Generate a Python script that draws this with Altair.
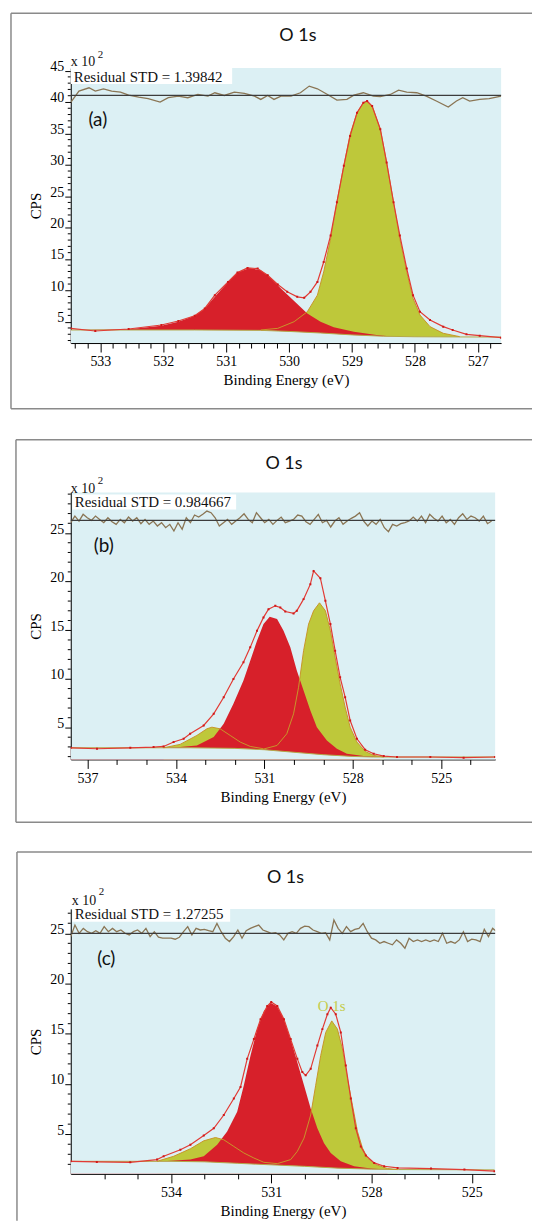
import altair as alt
import pandas as pd

SERIF = "Liberation Serif"
SANS = "Lato"
BG = "#dcf0f4"
RED = "#d7202a"
YEL = "#bec83a"
YEL_LINE = "#c8962a"
ENV = "#e23a34"
RES = "#8a7554"
FRAME = "#8a8a8a"

# ---------------- panel (a) ----------------
a_env_x = [533.47, 533.08, 532.55, 532.03, 531.76, 531.50, 531.34, 531.18, 530.97, 530.82, 530.66, 530.50, 530.34, 530.18, 530.03, 529.87, 529.76, 529.66, 529.55, 529.45, 529.34, 529.24, 529.13, 529.03, 528.92, 528.82, 528.76, 528.68, 528.55, 528.45, 528.34, 528.24, 528.13, 528.03, 527.92, 527.76, 527.55, 527.40, 527.18, 526.97, 526.63]
a_env_y = [3.94, 3.52, 3.84, 4.47, 5.11, 5.95, 7.11, 9.23, 11.34, 12.82, 13.56, 13.46, 12.40, 10.92, 9.76, 8.96, 8.81, 9.76, 11.34, 14.51, 18.74, 24.03, 29.84, 34.60, 38.30, 39.88, 40.15, 39.36, 35.66, 30.37, 24.03, 18.74, 13.46, 9.23, 6.59, 5.26, 4.21, 3.68, 2.99, 2.78, 2.46]
a_red_x = [533.47, 532.55, 532.03, 531.76, 531.50, 531.34, 531.18, 530.97, 530.82, 530.63, 530.45, 530.29, 530.13, 529.92, 529.71, 529.50, 529.29, 528.97, 528.61, 528.34]
a_red_y = [3.68, 3.78, 4.37, 5.00, 5.95, 7.11, 8.96, 11.34, 12.82, 13.56, 13.19, 11.98, 10.29, 8.28, 6.32, 5.00, 4.10, 3.41, 2.89, 2.62]
a_yel_x = [530.45, 530.18, 529.92, 529.71, 529.55, 529.45, 529.34, 529.24, 529.13, 529.03, 528.92, 528.82, 528.77, 528.68, 528.55, 528.45, 528.34, 528.24, 528.13, 528.03, 527.92, 527.76, 527.55, 527.29]
a_yel_y = [3.68, 3.94, 5.00, 6.59, 9.23, 12.93, 18.21, 24.03, 29.84, 34.86, 38.30, 39.88, 40.04, 39.36, 35.66, 30.37, 24.03, 18.21, 12.93, 8.70, 6.06, 4.21, 3.15, 2.62]
a_base_x = [533.47, 531.50, 530.45, 530.00, 529.50, 529.00, 528.50, 528.00, 526.63]
a_base_y = [3.68, 3.68, 3.62, 3.45, 3.20, 2.90, 2.68, 2.60, 2.55]
a_res_x = [533.47, 533.34, 533.18, 533.08, 532.95, 532.82, 532.68, 532.55, 532.39, 532.24,
           532.05, 531.92, 531.76, 531.61, 531.45, 531.29, 531.18, 531.03, 530.87, 530.71,
           530.55, 530.45, 530.34, 530.24, 530.13, 529.97, 529.82, 529.68, 529.55, 529.39,
           529.24, 529.08, 528.97, 528.82, 528.66, 528.55, 528.39, 528.26, 528.13, 527.97,
           527.82, 527.66, 527.47, 527.34, 527.24, 527.13, 526.97, 526.82, 526.63]
a_res_y = [39.94, 41.73, 42.26, 41.73, 42.10, 41.73, 41.57, 41.10, 40.78, 40.52,
           39.99, 40.68, 40.94, 40.68, 41.20, 40.94, 41.47, 41.04, 41.57, 41.36,
           40.94, 40.41, 41.04, 40.41, 40.94, 40.94, 41.47, 42.53, 42.10, 41.20,
           40.31, 40.41, 41.10, 41.47, 40.94, 40.84, 41.20, 41.89, 41.57, 41.47,
           40.94, 40.15, 39.20, 40.15, 40.68, 40.15, 40.41, 40.52, 40.94]
a_res_ref = 41.05

# ---------------- panel (b) ----------------
b_env_x = [537.57, 536.68, 535.55, 534.76, 534.42, 534.08, 533.74, 533.52, 533.06, 532.72, 532.38, 532.05, 531.71, 531.48, 531.25, 531.03, 530.86, 530.63, 530.46, 530.29, 530.01, 529.90, 529.67, 529.44, 529.33, 529.10, 528.93, 528.76, 528.60, 528.43, 528.26, 528.09, 527.86, 527.58, 527.29, 526.95, 526.50, 525.37, 524.24, 523.17]
b_env_y = [2.91, 2.81, 2.91, 2.98, 3.05, 3.50, 3.84, 4.35, 5.21, 6.40, 8.11, 9.99, 11.70, 13.24, 14.95, 16.32, 17.17, 17.51, 17.34, 16.93, 16.73, 17.00, 18.20, 19.74, 21.10, 20.35, 18.03, 15.63, 12.90, 10.16, 8.11, 5.72, 3.84, 2.71, 2.30, 2.06, 1.96, 1.96, 1.89, 1.96]
b_red_x = [537.57, 534.42, 533.86, 533.29, 532.72, 532.38, 532.05, 531.71, 531.48, 531.25, 531.03, 530.82, 530.57, 530.35, 530.12, 529.90, 529.67, 529.44, 529.22, 528.88, 528.54, 528.20, 527.63, 527.07]
b_red_y = [2.91, 2.91, 2.98, 3.15, 4.01, 5.38, 7.43, 9.82, 11.87, 13.92, 15.63, 16.38, 16.15, 14.95, 13.24, 10.85, 8.79, 6.74, 5.03, 3.67, 2.81, 2.30, 2.06, 1.96]
b_y1_x = [534.42, 533.86, 533.29, 532.95, 532.78, 532.50, 532.16, 531.82, 531.48, 531.03]
b_y1_y = [2.91, 3.26, 4.18, 4.86, 5.03, 4.86, 4.18, 3.50, 3.05, 2.81]
b_y2_x = [531.03, 530.57, 530.24, 530.01, 529.84, 529.67, 529.50, 529.33, 529.13, 528.93, 528.76, 528.60, 528.43, 528.26, 528.09, 527.86, 527.58, 527.29, 526.95]
b_y2_y = [2.78, 3.15, 4.35, 6.40, 9.14, 12.90, 15.63, 17.00, 17.82, 17.00, 14.95, 12.21, 9.48, 7.09, 5.03, 3.50, 2.54, 2.13, 1.96]
b_base_x = [537.57, 533.50, 532.00, 531.00, 530.00, 529.00, 528.00, 527.30, 523.17]
b_base_y = [2.91, 2.91, 2.85, 2.71, 2.45, 2.20, 2.02, 1.96, 1.96]
b_res_x = [537.57, 537.43, 537.29, 537.15, 537.01, 536.87, 536.73, 536.59, 536.45, 536.31,
           536.17, 536.03, 535.89, 535.75, 535.61, 535.47, 535.33, 535.19, 535.05, 534.91,
           534.77, 534.63, 534.49, 534.35, 534.21, 534.07, 533.93, 533.79, 533.65, 533.51,
           533.37, 533.23, 533.09, 532.95, 532.81, 532.67, 532.53, 532.39, 532.25, 532.11,
           531.97, 531.83, 531.69, 531.55, 531.41, 531.27, 531.13, 530.99, 530.85, 530.71,
           530.57, 530.43, 530.29, 530.15, 530.01, 529.87, 529.73, 529.59, 529.45, 529.31,
           529.17, 529.03, 528.89, 528.75, 528.61, 528.47, 528.33, 528.19, 528.05, 527.91,
           527.77, 527.63, 527.49, 527.35, 527.21, 527.07, 526.93, 526.79, 526.65, 526.51,
           526.37, 526.23, 526.09, 525.95, 525.81, 525.67, 525.53, 525.39, 525.25, 525.11,
           524.97, 524.83, 524.69, 524.55, 524.41, 524.27, 524.13, 523.99, 523.85, 523.71,
           523.57, 523.43, 523.29]
b_res_y = [26.06, 26.74, 26.23, 26.92, 26.57, 26.30, 26.74, 26.40, 26.06, 26.57,
           26.16, 25.89, 26.40, 26.06, 26.64, 26.23, 26.57, 25.96, 26.40, 25.89,
           26.23, 25.72, 26.06, 25.55, 25.89, 25.21, 26.06, 25.38, 26.57, 26.06,
           26.85, 26.64, 26.92, 27.26, 27.09, 26.57, 25.72, 26.06, 26.40, 25.89,
           26.23, 26.57, 26.98, 26.40, 26.06, 27.09, 26.57, 26.06, 26.40, 25.89,
           26.30, 26.64, 26.06, 26.23, 26.40, 26.85, 26.74, 26.16, 25.89, 26.40,
           26.92, 26.06, 26.30, 25.62, 26.23, 26.57, 25.89, 26.23, 26.51, 26.74,
           27.09, 26.23, 25.72, 26.23, 25.89, 26.40, 25.55, 25.14, 25.89, 25.72,
           25.96, 26.06, 26.23, 26.64, 26.23, 26.74, 26.06, 26.92, 26.51, 26.23,
           26.74, 26.06, 26.40, 25.89, 26.57, 26.98, 26.40, 26.74, 26.57, 26.23,
           26.74, 25.96, 26.23]
b_res_ref = 26.30

# ---------------- panel (c) ----------------
c_env_x = [537.00, 536.22, 535.22, 534.42, 534.22, 533.72, 533.42, 533.02, 532.72, 532.42, 532.12, 531.92, 531.72, 531.52, 531.32, 531.12, 531.00, 530.82, 530.62, 530.42, 530.22, 530.07, 529.97, 529.82, 529.62, 529.47, 529.32, 529.22, 529.07, 528.92, 528.77, 528.62, 528.47, 528.32, 528.17, 527.92, 527.62, 527.22, 526.22, 525.22, 524.32]
c_env_y = [2.30, 2.24, 2.20, 2.47, 2.80, 3.45, 3.95, 4.87, 5.59, 6.91, 8.55, 9.70, 12.50, 14.47, 16.45, 17.76, 18.16, 17.76, 16.45, 14.47, 12.50, 11.18, 10.86, 11.51, 13.82, 15.46, 16.94, 17.60, 16.94, 15.13, 11.84, 8.55, 5.59, 3.78, 2.89, 2.14, 1.81, 1.64, 1.58, 1.48, 1.32]
c_red_x = [537.00, 534.22, 533.42, 533.02, 532.62, 532.32, 532.02, 531.82, 531.62, 531.42, 531.22, 531.02, 530.82, 530.62, 530.42, 530.22, 530.02, 529.82, 529.62, 529.42, 529.22, 528.92, 528.52, 528.02, 527.52]
c_red_y = [2.30, 2.30, 2.47, 2.80, 3.95, 5.26, 7.24, 9.87, 12.83, 15.46, 17.27, 18.09, 17.70, 16.45, 14.47, 12.17, 9.87, 7.57, 5.59, 4.11, 3.13, 2.30, 1.81, 1.58, 1.48]
c_y1_x = [534.42, 533.92, 533.42, 533.02, 532.67, 532.42, 532.12, 531.82, 531.52, 531.22, 530.82]
c_y1_y = [2.30, 2.80, 3.55, 4.34, 4.67, 4.44, 3.78, 3.13, 2.63, 2.20, 2.07]
c_y2_x = [530.82, 530.42, 530.22, 530.02, 529.82, 529.67, 529.52, 529.37, 529.19, 529.02, 528.87, 528.72, 528.57, 528.42, 528.27, 528.12, 527.87, 527.52, 527.22]
c_y2_y = [2.07, 2.47, 3.29, 4.61, 6.91, 9.87, 12.83, 15.13, 16.28, 15.46, 13.49, 10.53, 7.89, 5.26, 3.62, 2.63, 1.97, 1.58, 1.48]
c_base_x = [537.00, 534.00, 533.00, 532.00, 531.00, 530.00, 529.00, 528.00, 527.20, 524.32]
c_base_y = [2.30, 2.30, 2.25, 2.10, 1.95, 1.80, 1.62, 1.52, 1.48, 1.45]
c_res_x = [537.000, 536.875, 536.750, 536.625, 536.500, 536.375, 536.250, 536.125, 536.000, 535.875,
           535.750, 535.625, 535.500, 535.375, 535.250, 535.125, 535.000, 534.875, 534.750, 534.625,
           534.500, 534.375, 534.250, 534.125, 534.000, 533.875, 533.750, 533.625, 533.500, 533.375,
           533.250, 533.125, 533.000, 532.875, 532.750, 532.625, 532.500, 532.375, 532.250, 532.125,
           532.000, 531.875, 531.750, 531.625, 531.500, 531.375, 531.250, 531.125, 531.000, 530.875,
           530.750, 530.625, 530.500, 530.375, 530.250, 530.125, 530.000, 529.875, 529.750, 529.625,
           529.500, 529.375, 529.250, 529.125, 529.000, 528.875, 528.750, 528.625, 528.500, 528.375,
           528.250, 528.125, 528.000, 527.875, 527.750, 527.625, 527.500, 527.375, 527.250, 527.125,
           527.000, 526.875, 526.750, 526.625, 526.500, 526.375, 526.250, 526.125, 526.000, 525.875,
           525.750, 525.625, 525.500, 525.375, 525.250, 525.125, 525.000, 524.875, 524.750, 524.625,
           524.500, 524.375, 524.250]
c_res_y = [24.67, 25.82, 25.00, 25.49, 25.16, 25.00, 25.26, 25.00, 25.66, 25.16,
           25.49, 25.16, 25.33, 25.00, 24.84, 25.16, 25.33, 25.00, 25.49, 24.67,
           25.16, 24.61, 24.51, 24.51, 24.51, 24.41, 24.61, 25.16, 25.66, 24.84,
           25.49, 25.33, 25.39, 25.26, 25.16, 25.99, 25.16, 24.51, 24.18, 24.67,
           25.33, 24.51, 25.26, 25.49, 25.66, 25.82, 25.33, 25.16, 25.00, 25.07,
           24.84, 24.34, 25.00, 25.16, 25.00, 25.49, 25.72, 25.66, 25.33, 25.16,
           25.00, 25.07, 24.34, 26.32, 25.49, 25.00, 25.66, 25.16, 25.39, 25.49,
           25.99, 25.16, 24.51, 24.34, 24.01, 24.18, 24.01, 23.85, 24.34, 24.01,
           23.52, 24.51, 24.18, 24.34, 24.18, 24.34, 24.18, 24.34, 24.18, 25.00,
           24.01, 24.18, 24.01, 24.34, 25.16, 24.18, 24.41, 24.34, 24.18, 25.39,
           24.67, 25.49, 25.16]
c_res_ref = 25.00

# ---------------- axes / labels ----------------
a_xticks = [round(526.8 + 0.2 * i, 1) for i in range(34)]
b_xticks = [524, 525, 526, 527, 528, 529, 530, 531, 532, 533, 534, 535, 536, 537]
c_xticks = [525, 526, 527, 528, 529, 530, 531, 532, 533, 534, 535, 536]
a_ymajor = [5, 10, 15, 20, 25, 30, 35, 40, 45]
b_ymajor = [5, 10, 15, 20, 25]
c_ymajor = [5, 10, 15, 20, 25]
a_yminor = [v for v in range(2, 46) if v % 5]
b_yminor = [v for v in range(2, 30) if v % 5]
c_yminor = [v for v in range(2, 28) if v % 5]

panels = [
    dict(key="a", w=432, h=276, xdom=[533.47, 526.63], ydom=[1.6, 45.4],
         xticks=a_xticks, xmajor="abs(datum.value - round(datum.value)) < 0.01",
         ymajor=a_ymajor, yminor=a_yminor,
         env=(a_env_x, a_env_y), red=(a_red_x, a_red_y), yellow=[(a_yel_x, a_yel_y)],
         base=(a_base_x, a_base_y), res=(a_res_x, a_res_y), ref=a_res_ref,
         std="Residual STD = 1.39842", label="(a)", label_xy=(533.19, 36.2),
         frame=dict(l=-60, t=-55, b=342, r=463), title_xy=(228, -32),
         box=(0, 162, 0, 16), std_xy=(3, 13.5), x10=(0, -2), sup=(27, -10)),
    dict(key="b", w=426, h=268, xdom=[537.57, 523.17], ydom=[1.71, 29.17],
         xticks=b_xticks, xmajor="datum.value % 3 == 0",
         ymajor=b_ymajor, yminor=b_yminor,
         env=(b_env_x, b_env_y), red=(b_red_x, b_red_y), yellow=[(b_y1_x, b_y1_y), (b_y2_x, b_y2_y)],
         base=(b_base_x, b_base_y), res=(b_res_x, b_res_y), ref=b_res_ref,
         std="Residual STD = 0.984667", label="(b)", label_xy=(536.79, 23.02),
         frame=dict(l=-55, t=-53, b=331, r=463), title_xy=(214, -29),
         box=(1.5, 166, 2, 17), std_xy=(4, 14.5), x10=(0, 0.5), sup=(27, -9)),
    dict(key="c", w=426, h=266, xdom=[537.0, 524.3], ydom=[1.05, 27.43],
         xticks=c_xticks, xmajor="datum.value % 3 == 0",
         ymajor=c_ymajor, yminor=c_yminor,
         env=(c_env_x, c_env_y), red=(c_red_x, c_red_y), yellow=[(c_y1_x, c_y1_y), (c_y2_x, c_y2_y)],
         base=(c_base_x, c_base_y), res=(c_res_x, c_res_y), ref=c_res_ref,
         std="Residual STD = 1.27255", label="(c)", label_xy=(536.21, 21.87),
         frame=dict(l=-54, t=-57, b=313, r=463), title_xy=(215.5, -30.7),
         box=(1.5, 160, -2, 13), std_xy=(4, 10.5), x10=(1, -4), sup=(28, -14)),
]

c_peak_label = ["O 1s"]
c_peak_x = [529.19]
c_peak_y = [17.31]

one = pd.DataFrame({"k": [0]})


def df(x, y):
    return pd.DataFrame({"x": x, "y": y})


def build(P):
    xax = alt.Axis(values=P["xticks"], tickCount=200, title="Binding Energy (eV)",
                   labelExpr=P["xmajor"] + " ? format(datum.value, 'd') : ''",
                   tickSize={"condition": {"test": P["xmajor"], "value": 9}, "value": 5},
                   labelOverlap=False, labelFlush=False, grid=False,
                   domainColor="black", tickColor="black", labelColor="black",
                   labelFont=SERIF, labelFontSize=14, labelPadding=3,
                   titleFont=SERIF, titleFontSize=15, titleFontWeight="normal",
                   titleColor="black", titlePadding=4)
    yax = alt.Axis(values=P["ymajor"], tickCount=200, title="CPS", format="d",
                   tickSize=6, labelOverlap=False, labelFlush=False, grid=False,
                   labelBaseline="alphabetic", labelPadding=1,
                   domainColor="black", tickColor="black", labelColor="black",
                   labelFont=SERIF, labelFontSize=14,
                   titleFont=SERIF, titleFontSize=15, titleFontWeight="normal",
                   titleColor="black", titlePadding=6)
    X = alt.X("x:Q", scale=alt.Scale(domain=P["xdom"], nice=False, zero=False), axis=xax)
    Y = alt.Y("y:Q", scale=alt.Scale(domain=P["ydom"], nice=False, zero=False), axis=yax)
    L = []
    for vx, vy in P["yellow"]:
        L.append(alt.Chart(df(vx, vy)).mark_area(color=YEL, opacity=1, clip=True).encode(x=X, y=Y))
    L.append(alt.Chart(df(*P["red"])).mark_area(color=RED, opacity=1, clip=True).encode(x=X, y=Y))
    L.append(alt.Chart(df(*P["base"])).mark_area(color=BG, opacity=1, clip=True).encode(x=X, y=Y))
    L.append(alt.Chart(df(*P["base"])).mark_line(color="#b4a848", strokeWidth=1, clip=True).encode(x=X, y=Y))
    for vx, vy in P["yellow"]:
        L.append(alt.Chart(df(vx, vy)).mark_line(color=YEL_LINE, strokeWidth=1, clip=True).encode(x=X, y=Y))
    L.append(alt.Chart(df(*P["env"])).mark_line(color=ENV, strokeWidth=1.2, clip=True).encode(x=X, y=Y))
    L.append(alt.Chart(df(*P["env"])).mark_square(color="#d01818", size=4, opacity=1, clip=True).encode(x=X, y=Y))
    L.append(alt.Chart(df(*P["res"])).mark_line(color=RES, strokeWidth=1.3, clip=True).encode(x=X, y=Y))
    L.append(alt.Chart(one).mark_rule(color="#3c3c3c", strokeWidth=1.3).encode(y=alt.datum(P["ref"])))
    # minor y ticks
    mt = pd.DataFrame({"y": P["yminor"]})
    L.append(alt.Chart(mt).mark_rule(color="black", strokeWidth=1).encode(
        y=Y, x=alt.value(-3), x2=alt.value(0)))
    bx0, bx1, by0, by1 = P["box"]
    L.append(alt.Chart(one).mark_rect(color="white", opacity=1).encode(
        x=alt.value(bx0), x2=alt.value(bx1), y=alt.value(by0), y2=alt.value(by1)))
    L.append(alt.Chart(one).mark_text(text=P["std"], font=SERIF, fontSize=15, align="left",
                                      baseline="alphabetic", color="#111").encode(
        x=alt.value(P["std_xy"][0]), y=alt.value(P["std_xy"][1])))
    lab = pd.DataFrame({"x": [P["label_xy"][0]], "y": [P["label_xy"][1]], "t": [P["label"]]})
    L.append(alt.Chart(lab).mark_text(font=SANS, fontSize=19, align="left", baseline="alphabetic",
                                      color="#111").encode(x=X, y=Y, text="t:N"))
    L.append(alt.Chart(one).mark_text(text="x 10", font=SERIF, fontSize=14, align="left",
                                      baseline="alphabetic", color="#111").encode(
        x=alt.value(P["x10"][0]), y=alt.value(P["x10"][1])))
    L.append(alt.Chart(one).mark_text(text="2", font=SERIF, fontSize=11, align="left",
                                      baseline="alphabetic", color="#111").encode(
        x=alt.value(P["sup"][0]), y=alt.value(P["sup"][1])))
    L.append(alt.Chart(one).mark_text(text="O 1s", font=SANS, fontSize=18, align="center",
                                      baseline="middle", color="#111").encode(
        x=alt.value(P["title_xy"][0]), y=alt.value(P["title_xy"][1])))
    if P["key"] == "c":
        pk = pd.DataFrame({"x": c_peak_x, "y": c_peak_y, "t": c_peak_label})
        L.append(alt.Chart(pk).mark_text(font=SERIF, fontSize=15, align="center",
                                         baseline="alphabetic", color="#c4cc4a").encode(
            x=X, y=Y, text="t:N"))
    f = P["frame"]
    L.append(alt.Chart(one).mark_rule(color=FRAME, strokeWidth=1.5).encode(
        x=alt.value(f["l"]), x2=alt.value(f["r"]), y=alt.value(f["t"])))
    L.append(alt.Chart(one).mark_rule(color=FRAME, strokeWidth=1.5).encode(
        x=alt.value(f["l"]), y=alt.value(f["t"]), y2=alt.value(f["b"])))
    if P["key"] != "c":
        L.append(alt.Chart(one).mark_rule(color=FRAME, strokeWidth=1.5).encode(
            x=alt.value(f["l"]), x2=alt.value(f["r"]), y=alt.value(f["b"])))
    return alt.layer(*L).properties(width=P["w"], height=P["h"])


chart = alt.vconcat(*[build(P) for P in panels], spacing=150, bounds="flush").properties(
    padding={"left": 2, "top": 2, "right": 0, "bottom": 0}
).configure_view(fill=BG, stroke=None)

chart.save("out.html", embed_options={"renderer": "svg", "actions": False})
